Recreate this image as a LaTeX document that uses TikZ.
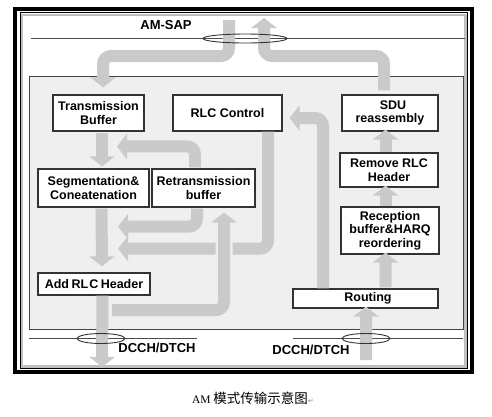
\documentclass[tikz,border=0pt]{standalone}
\usepackage{fontspec}
\setmainfont{Liberation Sans}
\newfontfamily\timesf{Liberation Serif}
\newfontfamily\cjk{Noto Sans CJK SC}
\newfontfamily\dejavu{DejaVu Sans}
\usetikzlibrary{arrows.meta,calc}
\definecolor{arrowgray}{HTML}{CACACA}
\definecolor{panelgray}{HTML}{EFEFEF}
\definecolor{edgegray}{HTML}{444444}
\begin{document}
\begin{tikzpicture}[x=1bp,y=-1bp,
  blockbox/.style={draw=black!80,line width=1.2bp,fill=white,align=center,inner sep=0pt,
    font=\bfseries\fontsize{12.5bp}{13.5bp}\selectfont},
  flow/.style={draw=arrowgray,line width=12bp,line cap=butt,rounded corners=8bp,
    -{Triangle[width=25bp,length=10bp]}},
  halo/.style={draw=panelgray,line width=17bp,line cap=butt,rounded corners=8bp},
  sapline/.style={draw=black!70,line width=1bp},
  sapring/.style={draw=black!80,line width=0.9bp},
  lbl/.style={font=\bfseries\fontsize{13bp}{14bp}\selectfont,inner sep=0pt}]
\useasboundingbox (0,0) rectangle (492,416);
\fill[white] (0,0) rectangle (492,416);
% frame
\draw[line width=4bp,black] (15.3,8.8) rectangle (472,372);
\draw[line width=2.5bp,black!25] (22,15) rectangle (465.5,366.5);
\draw[line width=1bp,black] (20,12.8) rectangle (467.5,368.5);
% inner panel
\draw[fill=panelgray,draw=edgegray,line width=1bp] (29,76) rectangle (463,329);
% SAP lines
\draw[sapline] (31,38.5) -- (465,38.5);
\draw[sapline] (29,338.5) -- (197,338.5);
\draw[sapline] (293,338.5) -- (463,338.5);
% labels
\node[lbl] (amsap) at (166,25) {AM-SAP};
\node[lbl] (dcchl) at (157,348) {DCCH/DTCH};
\node[lbl] (dcchr) at (311,350) {DCCH/DTCH};
% boxes
\node[blockbox,minimum width=91bp,minimum height=36bp] (tb) at (98.5,113) {Transmission\\Buffer};
\node[blockbox,minimum width=109bp,minimum height=36bp] (rlc) at (227.5,113) {RLC Control};
\node[blockbox,minimum width=96bp,minimum height=36bp] (sdu) at (390,113) {\hspace*{6bp}SDU\\reassembly};
\node[blockbox,minimum width=111bp,minimum height=38bp] (seg) at (93.5,188) {Segmentation\&\\Coneatenation};
\node[blockbox,minimum width=103bp,minimum height=38bp] (ret) at (203.5,188) {Retransmission\\buffer};
\node[blockbox,minimum width=98bp,minimum height=34bp] (rem) at (389,170) {Remove RLC\\Header};
\node[blockbox,minimum width=98bp,minimum height=47bp] (rec) at (390,230.5) {Reception\\buffer\&HARQ\\reordering};
\node[blockbox,minimum width=112bp,minimum height=22bp] (add) at (94,284) {Add\hspace{2.5bp}RL\hspace{1bp}C\hspace{2.5bp}Header};
\node[blockbox,minimum width=145bp,minimum height=19bp] (rout) at (365.5,298.5) {\hspace*{5bp}Routing};
% connector end points
\coordinate (sapdown) at (229,20);
\coordinate (sapup) at (264,18);
\coordinate (feedin) at (112,310);
\coordinate (dcchin) at (366,360);
\coordinate (dcchout) at (102,367);
% top arrows
\draw[flow] (sapdown) |- (160,56) -| ($(tb.north)+(4.5,-7)$);
\draw[flow] ($(sdu.north)+(-6,-4)$) |- (320,56) -| (sapup);
% transmit side
\draw[flow] ($(tb.south)+(3.5,1)$) -- ($(seg.north)+(8.5,-2)$);
\draw[flow] ($(ret.north)+(-8.5,-1)$) |- ($(seg.north)+(23.5,-22)$);
\draw[flow] ($(seg.south)+(8,1)$) -- ($(add.north)+(8,-6)$);
\draw[flow] ($(ret.south)+(-6.5,1)$) |- ($(seg.south)+(24.5,19)$);
\draw[flow] ($(rlc.south)+(40.5,0)$) |- ($(seg.south)+(24.5,41)$);
\draw[halo] ($(feedin)+(112,0)$) -- ($(ret.south)+(20.5,14)$);
\draw[flow] (feedin) -| ($(ret.south)+(20.5,5)$);
\draw[flow] ($(add.south)+(8.5,0)$) -- (dcchout);
% receive side
\draw[flow] ($(rout.north)+(-42.5,0)$) |- ($(rlc.east)+(7,5)$);
\draw[flow] ($(rout.north)+(20,-1)$) -- ($(rec.south)+(-4.5,-2)$);
\draw[flow] ($(rec.north)+(-4.5,0)$) -- ($(rem.south)+(-3.5,-2)$);
\draw[flow] ($(rem.north)+(-3.5,0)$) -- ($(sdu.south)+(-4.5,-2)$);
\draw[flow] (dcchin) -- ($(rout.south)+(0.5,-2)$);
% rings
\draw[sapring] (245,38.5) ellipse [x radius=42bp,y radius=4.5bp];
\draw[sapring] (101,338.5) ellipse [x radius=24bp,y radius=5bp];
\draw[sapring] (366,338.5) ellipse [x radius=24bp,y radius=5bp];
% caption
\node[inner sep=0pt] (cap) at (253,398) {{\timesf\fontsize{11.5bp}{12bp}\selectfont AM} {\cjk\fontsize{13.5bp}{14bp}\selectfont 模式传输示意图}{\dejavu\fontsize{7bp}{8bp}\selectfont\color{black!45}↵}};
\end{tikzpicture}
\end{document}
